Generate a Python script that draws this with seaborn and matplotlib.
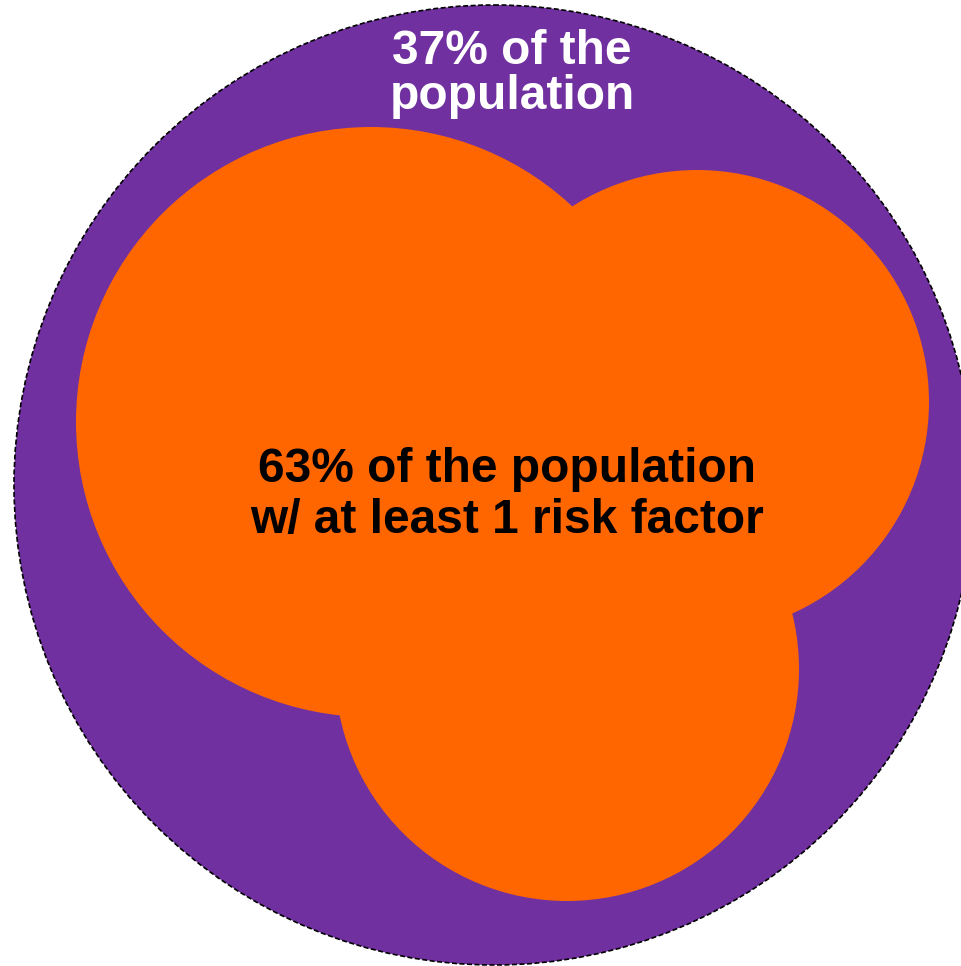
import matplotlib
matplotlib.use("Agg")
import matplotlib.pyplot as plt
from matplotlib.patches import Circle
import seaborn as sns

# Data (pixel-space geometry)
outer_label = "37% of the\npopulation"
inner_label = "63% of the population\nw/ at least 1 risk factor"
outer_share = 37
inner_share = 63

outer_center = (494, 485)
outer_radius = 480
risk_centers_x = [371, 697, 567]
risk_centers_y = [422, 402, 669]
risk_radii = [295, 232, 232]

purple = "#7030A0"
orange = "#FF6600"

sns.set_theme(style="white")
plt.rcParams['font.family'] = ['Liberation Sans', 'DejaVu Sans']

fig = plt.figure(figsize=(9.61, 9.66), dpi=100)
ax = fig.add_axes([0, 0, 1, 1])
ax.set_xlim(0, 961)
ax.set_ylim(966, 0)
ax.set_aspect('equal')
ax.axis('off')

ax.add_patch(Circle(outer_center, outer_radius, facecolor=purple,
                    edgecolor='black', linewidth=1.2,
                    linestyle=(0, (3, 1.5)), zorder=1))
for cx, cy, r in zip(risk_centers_x, risk_centers_y, risk_radii):
    ax.add_patch(Circle((cx, cy), r, facecolor=orange, edgecolor='none', zorder=2))

ax.text(512, 74, outer_label, color='white', fontsize=34.5, fontweight='bold',
        ha='center', va='center', linespacing=0.98, zorder=3)
ax.text(507, 495, inner_label, color='black', fontsize=34.5, fontweight='bold',
        ha='center', va='center', linespacing=1.2, zorder=3)

fig.savefig("out.png", dpi=100)
